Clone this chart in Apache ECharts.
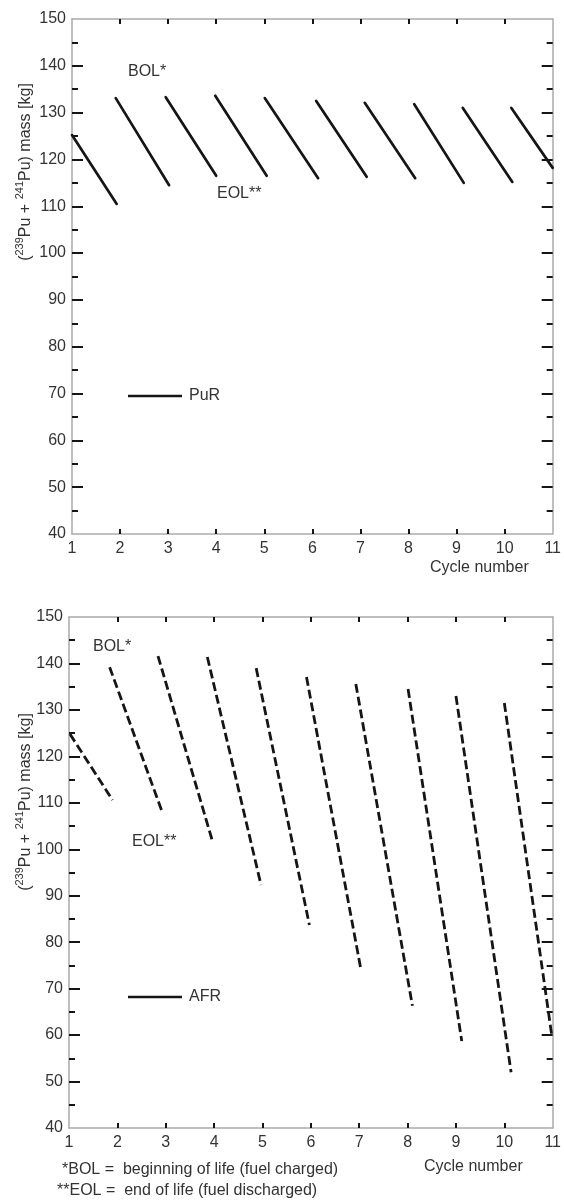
<!DOCTYPE html>
<html>
<head>
<meta charset="utf-8">
<script src="https://cdn.jsdelivr.net/npm/echarts@6/dist/echarts.min.js"></script>
<style>
html,body{margin:0;padding:0;background:#fff;}
#chart{width:564px;height:1202px;}
</style>
</head>
<body>
<div id="chart"></div>
<script>
// ---- data ----
const cycleTicks = [1, 2, 3, 4, 5, 6, 7, 8, 9, 10, 11];
const innerCycleTicks = [2, 3, 4, 5, 6, 7, 8, 9, 10];
const massTicks = [40, 50, 60, 70, 80, 90, 100, 110, 120, 130, 140, 150];

// PuR (top panel) : each segment goes from BOL to EOL
const purBolCycle = [1.00, 1.91, 2.95, 3.98, 5.01, 6.08, 7.09, 8.12, 9.13, 10.14];
const purBolMass  = [125.2, 133.1, 133.3, 133.6, 133.1, 132.5, 132.1, 131.8, 131.0, 131.0];
const purEolCycle = [1.93, 3.02, 4.00, 5.05, 6.12, 7.13, 8.14, 9.15, 10.16, 11.00];
const purEolMass  = [110.5, 114.5, 116.5, 116.5, 116.0, 116.3, 116.0, 115.0, 115.2, 118.2];

// AFR (bottom panel)
const afrBolCycle = [1.02, 1.84, 2.84, 3.86, 4.87, 5.91, 6.93, 8.01, 9.00, 10.00];
const afrBolMass  = [124.8, 139.2, 141.6, 141.4, 139.0, 137.1, 135.6, 134.5, 133.0, 131.5];
const afrEolCycle = [1.90, 2.92, 3.97, 4.97, 5.97, 7.03, 8.10, 9.12, 10.14, 10.98];
const afrEolMass  = [110.6, 108.2, 101.6, 92.3, 83.7, 74.4, 66.3, 58.7, 52.0, 60.0];

// ---- styling ----
const FONT = '"Liberation Sans", Arial, Helvetica, sans-serif';
const TXT = '#333333';
const AXIS = '#aaaaaa';
const INK = '#151515';

function xAxes(grid) {
  return [
    {
      type: 'value', gridIndex: grid, position: 'bottom', min: 1, max: 11, interval: 1,
      axisLine: { onZero: false, lineStyle: { color: AXIS, width: 1.5 } },
      axisTick: { inside: true, length: 5, customValues: innerCycleTicks, lineStyle: { color: INK, width: 2 } },
      axisLabel: { margin: 7, color: TXT, fontSize: 16, fontFamily: FONT, customValues: cycleTicks },
      splitLine: { show: false }
    },
    {
      type: 'value', gridIndex: grid, position: 'top', min: 1, max: 11, interval: 1,
      axisLine: { onZero: false, lineStyle: { color: AXIS, width: 1.5 } },
      axisTick: { inside: true, length: 5, customValues: innerCycleTicks, lineStyle: { color: INK, width: 2 } },
      axisLabel: { show: false },
      splitLine: { show: false }
    }
  ];
}
function yAxes(grid) {
  const common = {
    type: 'value', gridIndex: grid, min: 40, max: 150, interval: 10,
    axisLine: { onZero: false, lineStyle: { color: AXIS, width: 1.5 } },
    axisTick: { inside: true, length: 11, customValues: massTicks.slice(1, -1), lineStyle: { color: INK, width: 2 } },
    minorTick: { show: true, splitNumber: 2, length: 6, lineStyle: { color: INK, width: 2 } },
    splitLine: { show: false }, minorSplitLine: { show: false }
  };
  return [
    Object.assign({}, common, { position: 'left',
      axisLabel: { margin: 6, color: TXT, fontSize: 16, fontFamily: FONT } }),
    Object.assign({}, common, { position: 'right', axisLabel: { show: false } })
  ];
}

const series = [];
for (let i = 0; i < purBolCycle.length; i++) {
  series.push({
    name: 'PuR', type: 'line', xAxisIndex: 0, yAxisIndex: 0, symbol: 'none', silent: true,
    itemStyle: { color: INK },
    lineStyle: { color: INK, width: 2.7, type: 'solid', cap: 'round' },
    data: [[purBolCycle[i], purBolMass[i]], [purEolCycle[i], purEolMass[i]]]
  });
}
for (let i = 0; i < afrBolCycle.length; i++) {
  series.push({
    name: 'AFR', type: 'line', xAxisIndex: 2, yAxisIndex: 2, symbol: 'none', silent: true,
    itemStyle: { color: INK },
    lineStyle: { color: INK, width: 2.8, type: [9, 4], cap: 'butt' },
    data: [[afrBolCycle[i], afrBolMass[i]], [afrEolCycle[i], afrEolMass[i]]]
  });
}

function label(x, y, text, size) {
  return { type: 'text', x: x, y: y, silent: true,
    style: { text: text, fill: TXT, font: (size || 16) + 'px ' + FONT,
      align: 'left', verticalAlign: 'middle', textAlign: 'left', textVerticalAlign: 'middle' } };
}
function yTitle(x, y) {
  return { type: 'text', x: x, y: y, rotation: Math.PI / 2, silent: true,
    style: {
      text: '{p|(}{s|239}{p|Pu + }{s|241}{p|Pu) mass [kg]}',
      align: 'center', verticalAlign: 'middle', textAlign: 'center', textVerticalAlign: 'middle',
      rich: {
        p: { fontSize: 16, fontFamily: FONT, fill: TXT, color: TXT, lineHeight: 20, verticalAlign: 'bottom' },
        s: { fontSize: 11, fontFamily: FONT, fill: TXT, color: TXT, lineHeight: 20, verticalAlign: 'top' }
      }
    } };
}

function legendFor(name, top) {
  return { data: [name], left: 128, top: top, padding: 0, itemWidth: 54, itemHeight: 2.4,
    icon: 'rect', selectedMode: false, itemGap: 0,
    itemStyle: { color: INK, borderWidth: 0 },
    textStyle: { color: TXT, fontSize: 16, fontFamily: FONT, padding: [0, 0, 0, 2] } };
}

const option = {
  animation: false,
  backgroundColor: '#ffffff',
  grid: [
    { left: 72, top: 19, width: 486, height: 515 },
    { left: 69, top: 617, width: 489, height: 511 }
  ],
  xAxis: xAxes(0).concat(xAxes(1)),
  yAxis: yAxes(0).concat(yAxes(1)),
  legend: [legendFor('PuR', 388), legendFor('AFR', 989)],
  series: series,
  graphic: [
    yTitle(24, 172),
    yTitle(24, 802),
    label(128, 72, 'BOL*'),
    label(217, 194, 'EOL**'),
    label(430, 568, 'Cycle number'),
    label(93, 647, 'BOL*'),
    label(132, 842, 'EOL**'),
    label(424, 1167, 'Cycle number'),
    label(62, 1170, '*BOL =  beginning of life (fuel charged)'),
    label(57, 1191, '**EOL =  end of life (fuel discharged)')
  ]
};

const chart = echarts.init(document.getElementById('chart'), null, { renderer: 'canvas' });
chart.setOption(option);
</script>
</body>
</html>
